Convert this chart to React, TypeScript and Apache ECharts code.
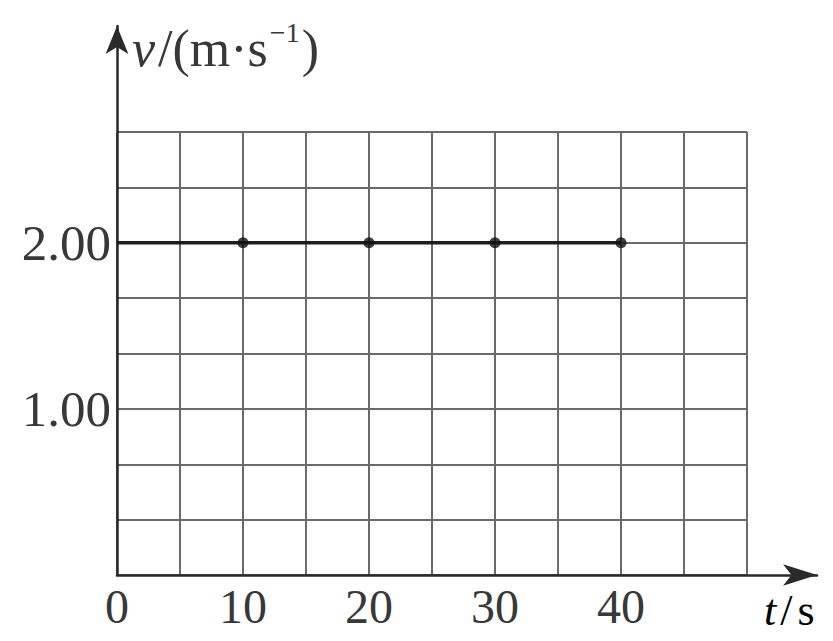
import React, { useEffect, useRef } from "react";
import * as echarts from "echarts";

// time (s) and velocity (m/s) readings
const timeValues = [0, 10, 20, 30, 40];
const velocityValues = [2.0, 2.0, 2.0, 2.0, 2.0];
// readings drawn as dots (t = 0 is only the start of the line)
const markedTimes = [10, 20, 30, 40];
const xTickLabels = [0, 10, 20, 30, 40];
const yTickLabels = [1.0, 2.0];

const X_MAX = 50;
const X_STEP = 5;
const Y_STEP = 1 / 3;
const Y_MAX = 8 / 3;

const FONT = "'Liberation Serif', 'Times New Roman', serif";
const INK = "#383838";

export default function App() {
  const ref = useRef<HTMLDivElement>(null);

  useEffect(() => {
    if (!ref.current) return;
    const chart = echarts.init(ref.current, undefined, { renderer: "svg" });

    const lineData = timeValues.map((t, i) => [t, velocityValues[i]]);
    const dotData = lineData.filter(([t]) => markedTimes.includes(t));

    const near = (a: number, b: number) => Math.abs(a - b) < 1e-6;

    const arrowAxis = (size: number[]) => ({
      type: "value",
      gridIndex: 1,
      min: 0,
      max: 1,
      axisLine: {
        show: true,
        symbol: ["none", "arrow"],
        symbolSize: size,
        lineStyle: { color: "#2a2a2a", width: 2.5 },
      },
      axisTick: { show: false },
      axisLabel: { show: false },
      splitLine: { show: false },
    });

    chart.setOption({
      animation: false,
      backgroundColor: "#ffffff",
      grid: [
        { left: 117, right: 86, top: 132, bottom: 66 },
        { left: 117, right: 16, top: 26, bottom: 66 },
      ],
      xAxis: [
        {
          type: "value",
          gridIndex: 0,
          min: 0,
          max: X_MAX,
          interval: X_STEP,
          axisLine: { show: false },
          axisTick: { show: false },
          splitLine: { show: true, lineStyle: { color: "#6a6a6a", width: 2 } },
          axisLabel: {
            margin: 7,
            fontFamily: FONT,
            fontSize: 48,
            color: INK,
            formatter: (v: number) =>
              xTickLabels.some((l) => near(l, v)) ? String(v) : "",
          },
        },
        arrowAxis([16, 34]),
      ],
      yAxis: [
        {
          type: "value",
          gridIndex: 0,
          min: 0,
          max: Y_MAX,
          interval: Y_STEP,
          axisLine: { show: false },
          axisTick: { show: false },
          splitLine: { show: true, lineStyle: { color: "#6a6a6a", width: 2 } },
          axisLabel: {
            margin: 6,
            fontFamily: FONT,
            fontSize: 51,
            color: INK,
            formatter: (v: number) => {
              const hit = yTickLabels.find((l) => near(l, v));
              return hit !== undefined ? hit.toFixed(2) : "";
            },
          },
        },
        arrowAxis([17, 28]),
      ],
      series: [
        {
          type: "line",
          xAxisIndex: 0,
          yAxisIndex: 0,
          data: lineData,
          showSymbol: false,
          lineStyle: { color: "#1e1e1e", width: 3.5 },
          z: 3,
        },
        {
          type: "scatter",
          xAxisIndex: 0,
          yAxisIndex: 0,
          data: dotData,
          symbol: "circle",
          symbolSize: 11,
          itemStyle: { color: "#111111" },
          z: 4,
        },
      ],
      graphic: [
        {
          type: "text",
          left: 132,
          top: 18,
          style: {
            text: "{i|v}{n|/(m·s}{s|−1}{n|)}",
            fontFamily: FONT,
            fill: INK,
            rich: {
              i: { fontFamily: FONT, fontStyle: "italic", fontSize: 52, lineHeight: 56, verticalAlign: "bottom", color: INK, padding: [0, 3, 0, 0] },
              n: { fontFamily: FONT, fontSize: 52, lineHeight: 56, verticalAlign: "bottom", color: INK },
              s: { fontFamily: FONT, fontSize: 28, lineHeight: 56, verticalAlign: "top", color: INK, padding: [0, 2, 0, 2] },
            },
          },
        },
        {
          type: "text",
          left: 764,
          top: 588,
          style: {
            text: "{i|t}{n|/}{m|s}",
            fontFamily: FONT,
            rich: {
              i: { fontFamily: FONT, fontStyle: "italic", fontSize: 44, lineHeight: 46, color: INK, padding: [0, 4, 0, 0] },
              n: { fontFamily: FONT, fontSize: 44, lineHeight: 46, color: INK, padding: [0, 5, 0, 0] },
              m: { fontFamily: FONT, fontSize: 44, lineHeight: 46, color: INK },
            },
          },
        },
      ],
    });

    return () => chart.dispose();
  }, []);

  return (
    <div
      ref={ref}
      style={{ position: "fixed", left: 0, top: 0, width: 833, height: 641 }}
    />
  );
}
